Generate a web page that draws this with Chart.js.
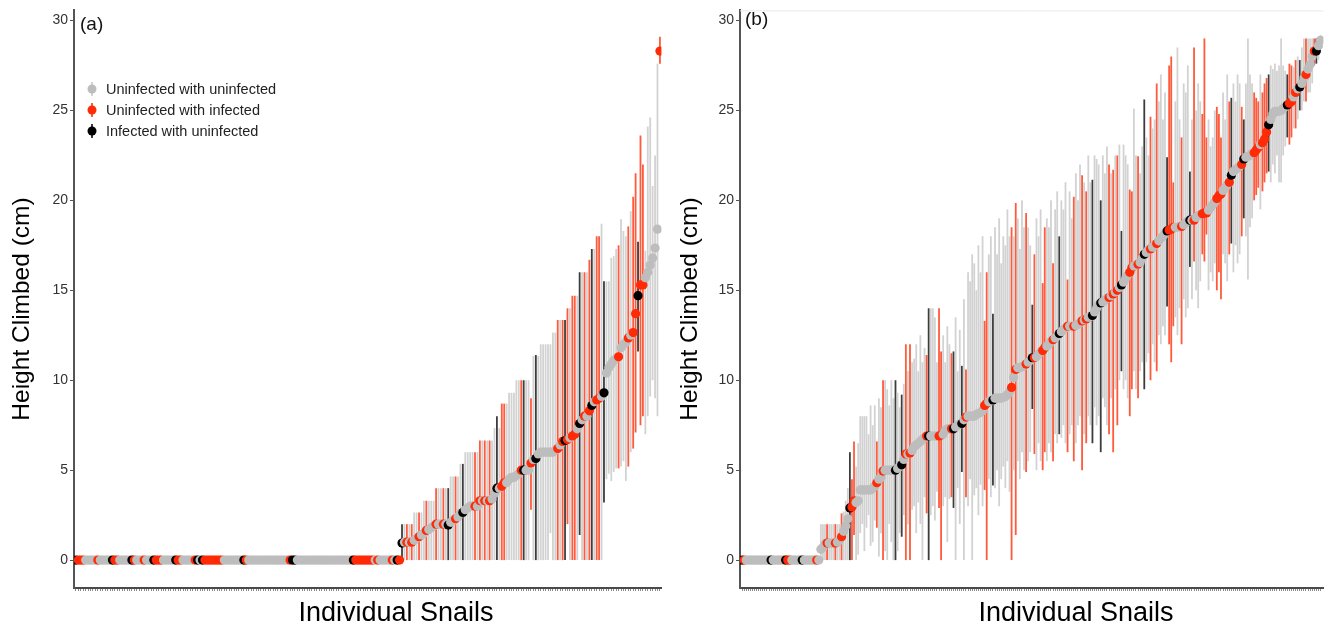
<!DOCTYPE html>
<html>
<head>
<meta charset="utf-8">
<script src="https://cdn.jsdelivr.net/npm/chart.js@4.4.1/dist/chart.umd.min.js"></script>
<style>
  html, body { margin: 0; padding: 0; background: #fff; }
  body { width: 1328px; height: 632px; position: relative; overflow: hidden; }
  canvas { position: absolute; top: 0; }
  #chartA { left: 0; }
  #chartB { left: 666px; }
</style>
</head>
<body>
<canvas id="chartA" width="666" height="632"></canvas>
<canvas id="chartB" width="662" height="632"></canvas>
<script>
// groups: g = uninfected with uninfected, r = uninfected with infected, k = infected with uninfected
const legendLabels = ["Uninfected with uninfected", "Uninfected with infected", "Infected with uninfected"];
const legendGroups = ["g", "r", "k"];
const yTicks = [0, 5, 10, 15, 20, 25, 30];
const panelLabels = ["(a)", "(b)"];
const yTitle = "Height Climbed (cm)";
const xTitle = "Individual Snails";

// panel (a), snails sorted by height
const groupA = (
  "krrrgggggr" + "gggggkrrgg" + "gggkrgggrg" + "ggkrrrgggg" + "gkrrgggggr" +
  "kgkrrrrrrr" + "rggggggggk" + "rggggggggg" + "ggggggggrk" + "kggggggggg" +
  "gggggggggg" + "ggggkrrrrr" + "rrrgrggggg" + "rgkr" +
  "kgrgrggrgg" + "rgggrggrgk" + "ggrggkgggg" + "rgrgrgrggk" + "grrggggggr" +
  "kggrgkgggg" + "ggggrgrkrg" + "rrgkgrgrkg" + "rrgkgggggr" + "gggrgrrkrr" + "ggggggr"
).split("");

const heightA = [
  0, 0, 0, 0, 0, 0, 0, 0, 0, 0,
  0, 0, 0, 0, 0, 0, 0, 0, 0, 0,
  0, 0, 0, 0, 0, 0, 0, 0, 0, 0,
  0, 0, 0, 0, 0, 0, 0, 0, 0, 0,
  0, 0, 0, 0, 0, 0, 0, 0, 0, 0,
  0, 0, 0, 0, 0, 0, 0, 0, 0, 0,
  0, 0, 0, 0, 0, 0, 0, 0, 0, 0,
  0, 0, 0, 0, 0, 0, 0, 0, 0, 0,
  0, 0, 0, 0, 0, 0, 0, 0, 0, 0,
  0, 0, 0, 0, 0, 0, 0, 0, 0, 0,
  0, 0, 0, 0, 0, 0, 0, 0, 0, 0,
  0, 0, 0, 0, 0, 0, 0, 0, 0, 0,
  0, 0, 0, 0, 0, 0, 0, 0, 0, 0,
  0, 0, 0, 0,
  0.95, 1.0, 1.0, 1.0, 1.0, 1.1, 1.2, 1.3, 1.4, 1.5,
  1.65, 1.7, 1.8, 1.9, 2.0, 2.0, 2.0, 2.0, 2.0, 1.95,
  2.1, 2.2, 2.3, 2.4, 2.6, 2.65, 2.8, 2.9, 3.0, 3.0,
  3.0, 3.0, 3.3, 3.3, 3.3, 3.3, 3.3, 3.4, 3.7, 4.0,
  4.0, 4.1, 4.3, 4.3, 4.5, 4.6, 4.6, 4.7, 4.8, 5.0,
  5.0, 5.0, 5.0, 5.4, 5.6, 5.65, 5.9, 6.0, 6.0, 6.0,
  6.0, 6.0, 6.0, 6.1, 6.2, 6.4, 6.6, 6.65, 6.7, 6.8,
  6.9, 7.0, 7.3, 7.6, 7.8, 8.0, 8.0, 8.3, 8.6, 8.8,
  8.9, 9.0, 9.1, 9.3, 10.4, 10.7, 10.9, 11.1, 11.2, 11.3,
  11.8, 12.0, 12.1, 12.35, 12.5, 12.65, 13.7, 14.7, 15.3, 15.3,
  15.7, 16.0, 16.4, 16.8, 17.35, 18.4, 28.3
];

const lowA = [
  0, 0, 0, 0, 0, 0, 0, 0, 0, 0,
  0, 0, 0, 0, 0, 0, 0, 0, 0, 0,
  0, 0, 0, 0, 0, 0, 0, 0, 0, 0,
  0, 0, 0, 0, 0, 0, 0, 0, 0, 0,
  0, 0, 0, 0, 0, 0, 0, 0, 0, 0,
  0, 0, 0, 0, 0, 0, 0, 0, 0, 0,
  0, 0, 0, 0, 0, 0, 0, 0, 0, 0,
  0, 0, 0, 0, 0, 0, 0, 0, 0, 0,
  0, 0, 0, 0, 0, 0, 0, 0, 0, 0,
  0, 0, 0, 0, 0, 0, 0, 0, 0, 0,
  0, 0, 0, 0, 0, 0, 0, 0, 0, 0,
  0, 0, 0, 0, 0, 0, 0, 0, 0, 0,
  0, 0, 0, 0, 0, 0, 0, 0, 0, 0,
  0, 0, 0, 0,
  0, 0, 0, 0, 0, 0, 0, 0, 0, 0,
  0, 0, 0, 0, 0, 0, 0, 0, 0, 0,
  0, 0, 0, 0, 0, 0, 0, 0, 0, 0,
  0, 0, 0, 0, 0, 0, 0, 0, 0, 0,
  0, 0, 0, 0, 0, 0, 0, 0, 0, 0,
  0, 0, 0, 2.8, 0, 0, 0, 0, 0, 0,
  0, 1.5, 0, 0, 0, 0, 0, 0, 2.0, 0,
  0, 0, 0, 1.4, 0, 0, 0, 0, 0, 0,
  0, 0, 0, 3.2, 4.5, 4.8, 4.4, 4.9, 5.1, 5.1,
  5.2, 5.5, 4.4, 5.2, 6.0, 6.2, 7.1, 11.6, 7.5, 8.0,
  7.0, 8.0, 9.1, 10.0, 9.0, 8.0, 27.6
];

const highA = [
  0, 0, 0, 0, 0, 0, 0, 0, 0, 0,
  0, 0, 0, 0, 0, 0, 0, 0, 0, 0,
  0, 0, 0, 0, 0, 0, 0, 0, 0, 0,
  0, 0, 0, 0, 0, 0, 0, 0, 0, 0,
  0, 0, 0, 0, 0, 0, 0, 0, 0, 0,
  0, 0, 0, 0, 0, 0, 0, 0, 0, 0,
  0, 0, 0, 0, 0, 0, 0, 0, 0, 0,
  0, 0, 0, 0, 0, 0, 0, 0, 0, 0,
  0, 0, 0, 0, 0, 0, 0, 0, 0, 0,
  0, 0, 0, 0, 0, 0, 0, 0, 0, 0,
  0, 0, 0, 0, 0, 0, 0, 0, 0, 0,
  0, 0, 0, 0, 0, 0, 0, 0, 0, 0,
  0, 0, 0, 0, 0, 0, 0, 0, 0, 0,
  0, 0, 0, 0,
  2.0, 2.0, 2.0, 2.0, 2.0, 2.65, 2.65, 2.65, 2.65, 3.3,
  3.3, 3.3, 3.3, 3.3, 4.0, 4.0, 4.0, 4.0, 4.0, 4.0,
  4.65, 4.65, 4.65, 4.65, 5.35, 5.35, 6.0, 6.0, 6.0, 6.0,
  6.0, 6.0, 6.65, 6.65, 6.65, 6.65, 6.65, 6.65, 7.35, 8.0,
  7.35, 8.7, 8.7, 8.7, 9.3, 9.3, 9.3, 10.0, 10.0, 10.0,
  10.0, 10.0, 10.0, 9.0, 11.35, 11.4, 11.35, 12.0, 12.0, 12.0,
  12.0, 12.0, 12.65, 12.65, 13.35, 13.35, 13.35, 13.35, 14.0, 14.0,
  14.7, 14.7, 14.7, 16.0, 16.0, 16.0, 16.0, 16.7, 17.3, 17.3,
  18.0, 18.0, 18.7, 15.5, 15.5, 15.5, 16.8, 16.9, 17.3, 17.5,
  18.95, 18.3, 18.0, 18.55, 19.4, 20.2, 21.5, 17.7, 23.6, 22.0,
  17.2, 24.1, 24.6, 20.8, 22.5, 27.6, 29.1
];

// panel (b)
const groupB = (
  "krgggggggg" + "ggggkggggg" + "gkrrgggggk" + "ggggggrg" +
  "gggrgggrgg" + "rgggkrrggg" + "gggggggrgg" + "rgggggkggk" + "grgrgggggg" +
  "grkggggrrg" + "gggrkgggkg" + "rggggggggr" + "rggkgggggg" + "ggrgrggggr" +
  "ggkrgggrrg" + "ggrggkgggr" + "ggrgggrgrg" + "gkgggkgggr" + "grgrgkgggr" +
  "rggrggkggr" + "ggrggggkrr" + "rgggrgggkg" + "rgggrrrggg" + "grrrgggrkg" +
  "gggrkggggr" + "rrgrrrkggg" + "gggggkrrgr" + "gkggrgggrk" + "gg"
).split("");

const heightB = [
  0, 0, 0, 0, 0, 0, 0, 0, 0, 0,
  0, 0, 0, 0, 0, 0, 0, 0, 0, 0,
  0, 0, 0, 0, 0, 0, 0, 0, 0, 0,
  0, 0, 0, 0, 0, 0, 0, 0,
  0.6, 0.7, 0.9, 0.95, 0.95, 0.95, 0.95, 0.95, 1.0, 1.1,
  1.3, 1.6, 1.9, 2.3, 2.9, 2.95, 3.3, 3.2, 3.3, 3.9,
  3.9, 3.9, 3.9, 3.9, 3.9, 4.0, 4.1, 4.3, 4.5, 4.6,
  4.95, 5.0, 5.0, 5.0, 5.0, 5.0, 5.0, 5.1, 5.2, 5.3,
  5.6, 5.9, 5.9, 5.95, 6.1, 6.3, 6.4, 6.5, 6.6, 6.7,
  6.8, 6.9, 6.9, 6.9, 6.9, 6.9, 6.9, 6.9, 6.95, 7.0,
  7.2, 7.3, 7.3, 7.3, 7.3, 7.4, 7.5, 7.55, 7.6, 7.8,
  7.95, 8.0, 8.0, 8.0, 8.0, 8.1, 8.15, 8.2, 8.3, 8.6,
  8.7, 8.8, 8.85, 8.9, 9.0, 9.0, 9.0, 9.0, 9.05, 9.1,
  9.2, 9.35, 9.6, 10.15, 10.6, 10.7, 10.7, 10.75, 10.8, 10.9,
  11.0, 11.1, 11.25, 11.25, 11.3, 11.45, 11.55, 11.65, 11.8, 11.9,
  12.0, 12.15, 12.25, 12.35, 12.45, 12.6, 12.7, 12.8, 12.9, 13.0,
  13.0, 13.0, 13.0, 13.05, 13.1, 13.2, 13.3, 13.35, 13.4, 13.5,
  13.55, 13.6, 13.8, 14.0, 14.2, 14.3, 14.35, 14.45, 14.55, 14.6,
  14.7, 14.8, 14.9, 15.0, 15.15, 15.3, 15.45, 15.65, 15.85, 16.0,
  16.25, 16.35, 16.4, 16.45, 16.55, 16.8, 17.0, 17.1, 17.25, 17.3,
  17.4, 17.5, 17.6, 17.75, 17.9, 18.0, 18.15, 18.3, 18.35, 18.4,
  18.5, 18.5, 18.5, 18.55, 18.55, 18.65, 18.75, 18.85, 18.9, 18.9,
  18.9, 19.05, 19.15, 19.2, 19.25, 19.3, 19.3, 19.45, 19.6, 19.75,
  19.9, 20.1, 20.25, 20.35, 20.55, 20.7, 20.85, 21.0, 21.4, 21.6,
  21.7, 21.8, 21.9, 22.0, 22.3, 22.4, 22.45, 22.5, 22.6, 22.65,
  22.8, 22.95, 23.1, 23.2, 23.4, 23.8, 24.2, 24.5, 24.8, 24.95,
  24.95, 24.95, 25.0, 25.1, 25.2, 25.3, 25.4, 25.5, 25.75, 26.0,
  26.2, 26.3, 26.5, 26.8, 27.0, 27.3, 27.55, 28.0, 28.3, 28.3,
  28.6, 28.9
];

const lowB = [
  0, 0, 0, 0, 0, 0, 0, 0, 0, 0,
  0, 0, 0, 0, 0, 0, 0, 0, 0, 0,
  0, 0, 0, 0, 0, 0, 0, 0, 0, 0,
  0, 0, 0, 0, 0, 0, 0, 0,
  0, 0, 0, 0, 0, 0, 0, 0, 0, 0,
  0, 0, 0, 0, 0, 0, 1.4, 0, 0.3, 1.5,
  2.0, 0.5, 1.8, 2.5, 0.8, 1.0, 2.2, 1.8, 0.2, 1.5,
  0, 0.5, 0, 2.0, 1.0, 0, 0, 0.5, 1.5, 1.3,
  2.5, 0, 2.0, 0, 2.8, 3.0, 1.5, 3.2, 2.0, 0,
  3.5, 2.6, 0, 2.5, 3.0, 2.2, 3.8, 2.9, 0, 3.0,
  3.5, 1.0, 3.4, 3.5, 2.9, 0, 4.0, 2.0, 4.9, 0,
  3.5, 3.0, 4.5, 0, 3.6, 4.0, 2.5, 4.2, 3.0, 3.9,
  0, 4.5, 3.5, 4.15, 4.0, 5.0, 3.0, 4.5, 5.2, 4.0,
  5.5, 3.8, 0, 5.0, 1.4, 5.5, 4.5, 6.0, 5.0, 4.9,
  5.5, 6.0, 8.4, 5.9, 5.0, 6.5, 5.5, 5.0, 6.0, 5.5,
  6.5, 6.0, 5.5, 7.0, 6.5, 7.0, 6.8, 7.5, 6.5, 6.0,
  7.0, 7.5, 5.5, 6.5, 7.5, 8.0, 5.0, 7.0, 6.5, 8.0,
  7.5, 6.5, 8.5, 7.5, 8.0, 6.0, 9.0, 8.5, 7.5, 7.0,
  9.0, 6.0, 9.5, 7.5, 10.0, 10.5, 9.5, 10.0, 9.0, 8.0,
  9.5, 10.5, 9.5, 9.0, 10.5, 11.0, 9.5, 11.0, 11.5, 10.0,
  12.0, 11.0, 10.5, 12.5, 12.0, 13.0, 12.5, 14.1, 12.0, 11.0,
  13.0, 13.5, 12.5, 14.0, 12.0, 14.5, 13.5, 14.0, 16.3, 14.5,
  16.6, 15.0, 14.0, 15.5, 17.0, 16.6, 18.1, 15.0, 16.0, 15.5,
  16.5, 15.0, 16.0, 14.5, 17.0, 16.5, 15.5, 17.0, 17.6, 16.0,
  17.5, 16.5, 17.0, 18.0, 19.0, 18.0, 15.6, 18.5, 19.0, 20.0,
  20.3, 20.7, 19.5, 20.5, 21.0, 21.5, 21.6, 21.0, 22.0, 21.5,
  22.5, 21.0, 21.0, 22.5, 23.0, 23.5, 23.1, 23.5, 24.0, 24.0,
  24.5, 25.0, 25.0, 25.5, 25.5, 26.0, 26.0, 26.5, 27.5, 27.6,
  27.8, 28.5
];

const highB = [
  0, 0, 0, 0, 0, 0, 0, 0, 0, 0,
  0, 0, 0, 0, 0, 0, 0, 0, 0, 0,
  0, 0, 0, 0, 0, 0, 0, 0, 0, 0,
  0, 0, 0, 0, 0, 0, 0, 0,
  2.0, 2.0, 2.0, 2.0, 2.0, 2.0, 2.0, 2.0, 2.0, 2.0,
  2.6, 2.7, 3.3, 4.0, 6.0, 4.5, 6.6, 5.2, 6.5, 8.0,
  8.0, 8.0, 8.0, 7.0, 8.6, 7.5, 8.6, 6.6, 9.0, 8.5,
  10.0, 10.0, 9.5, 8.6, 10.0, 9.0, 10.0, 9.3, 8.5, 9.2,
  9.8, 12.0, 10.5, 12.0, 11.0, 11.2, 12.0, 10.5, 12.5, 11.0,
  11.8, 11.4, 14.0, 14.0, 14.0, 13.5, 11.0, 14.0, 11.6, 12.5,
  11.0, 13.0, 12.0, 11.5, 11.6, 13.5, 10.5, 12.8, 10.8, 14.5,
  10.6, 16.0, 15.5, 17.0, 16.5, 15.0, 17.5, 16.0, 18.0, 13.3,
  16.0, 17.0, 18.0, 13.7, 18.5, 17.0, 19.0, 16.5, 18.0, 17.5,
  19.5, 18.0, 18.5, 18.0, 19.85, 19.0, 17.3, 20.0, 18.5, 19.3,
  18.5, 17.5, 14.2, 17.0, 19.0, 18.0, 19.5, 15.4, 18.5, 19.0,
  18.5, 20.0, 16.5, 19.5, 20.5, 18.0, 20.0, 19.5, 21.0, 15.6,
  20.5, 19.0, 20.2, 21.5, 20.0, 22.0, 21.4, 21.0, 20.5, 22.5,
  21.0, 21.15, 22.5, 22.3, 22.0, 20.0, 22.5, 21.5, 23.0, 22.0,
  21.5, 21.7, 22.5, 22.5, 23.1, 18.3, 23.1, 22.5, 22.0, 20.6,
  20.5, 25.1, 22.5, 22.45, 21.5, 23.0, 25.6, 23.5, 22.5, 24.65,
  24.0, 24.5, 26.5, 25.5, 27.0, 24.5, 26.0, 22.4, 27.5, 28.0,
  21.0, 25.5, 28.5, 24.5, 23.5, 26.5, 26.0, 27.5, 21.6, 24.5,
  28.5, 25.0, 26.5, 25.5, 24.8, 29.0, 23.5, 24.5, 23.0, 23.5,
  25.0, 25.2, 24.8, 23.5, 26.0, 24.5, 27.0, 25.5, 25.7, 26.5,
  25.5, 27.0, 26.5, 25.2, 24.5, 26.5, 29.0, 27.0, 26.5, 26.0,
  25.7, 25.5, 27.0, 26.0, 26.5, 26.8, 27.0, 27.5, 27.3, 27.6,
  27.2, 27.5, 29.0, 27.5, 27.2, 27.0, 27.6, 27.5, 27.4, 27.8,
  28.0, 27.8, 28.5, 29.0, 29.0, 29.0, 29.0, 29.0, 29.0, 29.0,
  29.0, 29.2
];

const pointColors = { g: "#bdbdbd", r: "#ff2a06", k: "#000000" };
const barColors = { g: "#d2d2d2", r: "#ff5a3c", k: "#3c3c3c" };

Chart.defaults.font.family = "'Liberation Sans', Arial, sans-serif";

function errorBarPlugin(lows, highs, groups) {
  return {
    id: "errorBars",
    beforeDatasetsDraw(chart) {
      const { ctx, scales: { x, y } } = chart;
      ctx.save();
      ctx.lineWidth = 1.8;
      lows.forEach((lo, i) => {
        const hi = highs[i];
        if (hi <= lo) return;
        const px = x.getPixelForValue(i);
        ctx.strokeStyle = barColors[groups[i]];
        ctx.beginPath();
        ctx.moveTo(px, y.getPixelForValue(lo));
        ctx.lineTo(px, y.getPixelForValue(hi));
        ctx.stroke();
      });
      ctx.restore();
    },
  };
}

function decorPlugin(p) {
  return {
    id: "decor",
    afterDraw(chart) {
      const { ctx, chartArea } = chart;
      ctx.save();
      if (p.topLine) {
        ctx.strokeStyle = "#e8e8e8";
        ctx.lineWidth = 1;
        ctx.beginPath();
        ctx.moveTo(chartArea.left, chartArea.top + 0.5);
        ctx.lineTo(chartArea.right, chartArea.top + 0.5);
        ctx.stroke();
      }
      ctx.fillStyle = "#111";
      ctx.textBaseline = "middle";
      ctx.textAlign = "left";
      ctx.font = "19px 'Liberation Sans', Arial, sans-serif";
      ctx.fillText(p.label, p.labelX, p.labelY);

      ctx.fillStyle = "#000";
      ctx.textAlign = "center";
      ctx.font = "27px 'Liberation Sans', Arial, sans-serif";
      ctx.fillText(xTitle, p.xTitleX, 614);

      ctx.save();
      ctx.translate(p.yTitleX, 309);
      ctx.rotate(-Math.PI / 2);
      ctx.font = "24.5px 'Liberation Sans', Arial, sans-serif";
      ctx.fillText(yTitle, 0, 0);
      ctx.restore();

      if (p.legend) {
        ctx.font = "14.5px 'Liberation Sans', Arial, sans-serif";
        ctx.textAlign = "left";
        legendLabels.forEach((text, k) => {
          const g = legendGroups[k];
          const cy = 89 + k * 21;
          ctx.strokeStyle = barColors[g];
          ctx.lineWidth = 2;
          ctx.beginPath();
          ctx.moveTo(92, cy - 7);
          ctx.lineTo(92, cy + 7);
          ctx.stroke();
          ctx.fillStyle = pointColors[g];
          ctx.beginPath();
          ctx.arc(92, cy, 4.5, 0, Math.PI * 2);
          ctx.fill();
          ctx.fillStyle = "#222";
          ctx.fillText(text, 106, cy + 1);
        });
      }
      ctx.restore();
    },
  };
}

function makePanel(id, heights, lows, highs, groups, p) {
  const n = heights.length;
  return new Chart(document.getElementById(id), {
    type: "scatter",
    data: {
      datasets: [{
        data: heights.map((v, i) => ({ x: i, y: v })),
        pointBackgroundColor: groups.map((g) => pointColors[g]),
        pointBorderWidth: 0,
        pointRadius: 4.6,
        pointHoverRadius: 4.6,
        showLine: false,
      }],
    },
    options: {
      responsive: false,
      animation: false,
      events: [],
      layout: { padding: { top: 8, right: p.rightPad, bottom: 0, left: 0 } },
      plugins: { legend: { display: false }, tooltip: { enabled: false } },
      scales: {
        x: {
          type: "linear",
          bounds: "data",
          min: p.xMin,
          max: n - 1 + p.xExtra,
          afterBuildTicks: (s) => { s.ticks = heights.map((_, i) => ({ value: i })); },
          afterFit: (s) => { s.height = 44; },
          ticks: { display: false },
          grid: { display: true, drawOnChartArea: false, drawTicks: true, tickLength: 3, color: "#8a8a8a", lineWidth: 1 },
          border: { display: true, color: "#4a4a4a", width: 2 },
        },
        y: {
          type: "linear",
          bounds: "data",
          min: -1.55,
          max: 30.56,
          afterBuildTicks: (s) => { s.ticks = yTicks.map((v) => ({ value: v })); },
          afterFit: (s) => { s.width = 74; },
          ticks: { color: "#333", padding: 2, font: { size: 14 } },
          grid: { display: true, drawOnChartArea: false, drawTicks: true, tickLength: 4, color: "#555" },
          border: { display: true, color: "#555", width: 2 },
        },
      },
    },
    plugins: [errorBarPlugin(lows, highs, groups), decorPlugin(p)],
  });
}

makePanel("chartA", heightA, lowA, highA, groupA, {
  label: panelLabels[0], labelX: 80, labelY: 25,
  xTitleX: 396, yTitleX: 22, legend: true, topLine: false,
  rightPad: 1, xMin: -0.8, xExtra: 0.6,
});

makePanel("chartB", heightB, lowB, highB, groupB, {
  label: panelLabels[1], labelX: 79, labelY: 20,
  xTitleX: 410, yTitleX: 24, legend: false, topLine: true,
  rightPad: 0, xMin: -1, xExtra: 1.4,
});
</script>
</body>
</html>
